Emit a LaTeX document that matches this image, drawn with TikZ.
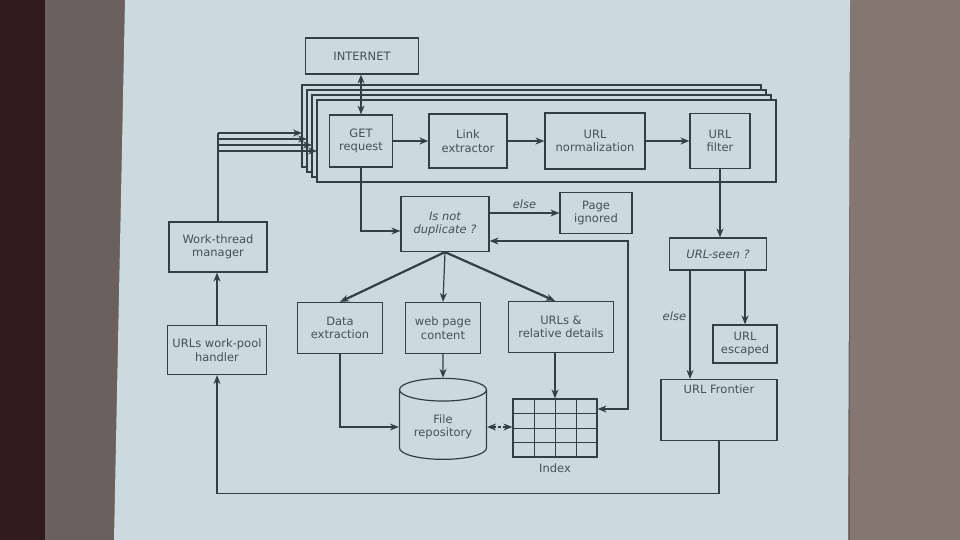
\documentclass[tikz,border=0pt]{standalone}
\usepackage{fontspec}
\setmainfont{DejaVu Sans}
\usetikzlibrary{positioning,arrows.meta,shapes.geometric}

\definecolor{ink}{RGB}{48,64,70}
\definecolor{inktext}{RGB}{66,82,88}
\definecolor{slide}{RGB}{204,218,223}
\definecolor{wall}{RGB}{108,96,92}
\definecolor{wallright}{RGB}{132,119,114}
\definecolor{curtain}{RGB}{48,26,26}

\begin{document}
\begin{tikzpicture}[
  x=1pt,y=-1pt,
  >={Stealth[length=9pt,width=7pt]},
  node distance=6pt,
  every node/.style={font=\fontsize{11.5}{13.5}\selectfont,text=inktext},
  box/.style={draw=ink,line width=1.2pt,align=center,inner sep=2pt},
  ask/.style={box,font=\fontsize{11.5}{13.5}\selectfont\itshape},
  line/.style={draw=ink,line width=1.2pt},
  flow/.style={line,->},
  bold flow/.style={draw=ink,line width=2.2pt,->},
  thread/.style={draw=ink,line width=1.2pt,fill=slide}
]
  % room and projected slide
  \fill[curtain] (0,0) rectangle (960,540);
  \fill[wall] (45,0) rectangle (960,540);
  \fill[wallright] (850,0) rectangle (960,540);
  \fill[slide] (125,0) -- (850,0) -- (848,540) -- (114,540) -- cycle;

  % stacked crawler threads
  \foreach \k in {3,2,1,0}
    \draw[thread] ({317-5*\k},{100-5*\k}) rectangle ({776-5*\k},{182-5*\k});

  \node[box,minimum width=113pt,minimum height=36pt] (internet) at (362,56) {INTERNET};
  \node[box,minimum width=63pt,minimum height=52pt] (get) at (361,141) {GET\\request};
  \node[box,minimum width=78pt,minimum height=54pt] (link) at (468,141) {Link\\extractor};
  \node[box,minimum width=100pt,minimum height=56pt] (norm) at (595,141) {URL\\normalization};
  \node[box,minimum width=60pt,minimum height=55pt] (filter) at (720,141) {URL\\filter};

  \node[ask,minimum width=88pt,minimum height=55pt] (dup) at (445,224) {Is not\\duplicate ?};
  \node[box,minimum width=72pt,minimum height=41pt] (ignored) at (596,213) {Page\\ignored};

  \node[box,minimum width=98pt,minimum height=50pt] (manager) at (218,247) {Work-thread\\manager};
  \node[box,minimum width=99pt,minimum height=49pt] (handler) at (217,350) {URLs work-pool\\handler};

  \node[box,minimum width=85pt,minimum height=51pt] (data) at (340,328) {Data\\extraction};
  \node[box,minimum width=75pt,minimum height=51pt] (web) at (443,328) {web page\\content};
  \node[box,minimum width=105pt,minimum height=51pt] (urls) at (561,327) {URLs \&\\relative details};

  \node[cylinder,shape border rotate=90,aspect=0.35,draw=ink,line width=1.2pt,
    align=center,minimum width=87pt,minimum height=81pt] (repo) at (443,427) {File\\repository};
  \node[line,minimum width=84pt,minimum height=58pt,inner sep=0pt] (index) at (555,428) {};
  \foreach \gx in {534,555,576}
    \draw[ink,line width=1pt] (\gx,399) -- (\gx,457);
  \foreach \gy in {413.5,428,442.5}
    \draw[ink,line width=1pt] (513,\gy) -- (597,\gy);
  \node[below=3pt of index] (indexname) {Index};

  \node[ask,minimum width=97pt,minimum height=32pt] (seen) at (718,254) {URL-seen ?};
  \node[box,minimum width=64pt,minimum height=38pt] (escaped) at (745,344) {URL\\escaped};
  \node[box,minimum width=116pt,minimum height=61pt,inner ysep=5pt,text depth=41pt] (frontier) at (719,410) {URL Frontier};

  % thread pipeline
  \draw[line,<->] (get.north |- internet.south) -- (get.north);
  \draw[bold flow] (get) -- (link);
  \draw[bold flow] (link) -- (norm);
  \draw[bold flow] (norm) -- (filter);

  % duplicate check
  \draw[flow] (get.south) |- ([yshift=-7pt]dup.west);
  \draw[flow] (dup.east |- ignored) -- node[above,font=\fontsize{11.5}{13.5}\selectfont\itshape] (elsedup) {else} (ignored.west);
  \draw[bold flow] (dup.south) -- (data.north);
  \draw[flow] (dup.south) -- (web.north);
  \draw[bold flow] (dup.south) -- ([xshift=-6pt]urls.north);

  % storage
  \draw[flow] (web.south) -- (repo.north);
  \draw[flow] (data.south) |- (repo.west);
  \draw[line,<->,densely dashed] (repo.east) -- (index.west |- repo.east);
  \draw[flow] (index.north |- urls.south) -- (index.north);
  \coordinate (back) at (628,241);
  \draw[line,<->] ([yshift=-17pt]dup.east) -- (back) |- ([yshift=19pt]index.east);

  % url check
  \draw[flow] (filter.south) -- (filter.south |- seen.north);
  \draw[flow] (seen.south -| escaped) -- (escaped.north);
  \draw[flow] ([xshift=-28pt]seen.south) -- node[left,pos=0.42,font=\fontsize{11.5}{13.5}\selectfont\itshape] (elseseen) {else}
    ([xshift=-28pt]seen.south |- frontier.north);

  % back to the work pool
  \draw[flow] (frontier.south) -- ++(0,52) -| (handler.south);
  \draw[flow] (handler.north) -- (handler.north |- manager.south);
  \coordinate (tap) at (218,133);
  \draw[line] (manager.north) -- (tap);
  \foreach \k in {0,...,3}
    \draw[flow] (218,{151-6*\k}) -- ({317-5*\k},{151-6*\k});
\end{tikzpicture}
\end{document}
